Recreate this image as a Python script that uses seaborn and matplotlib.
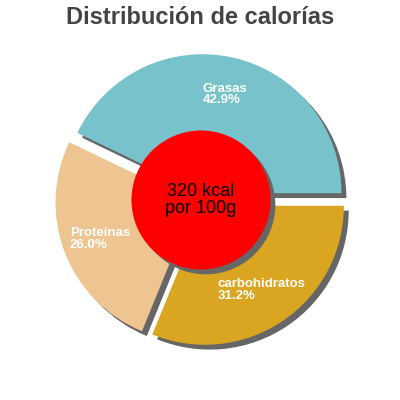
import matplotlib
matplotlib.use("Agg")
import matplotlib.pyplot as plt
import matplotlib.patches as mpatches
import seaborn as sns

# Data
nutrients = ["Grasas", "Proteínas", "carbohidratos"]
shares = [42.9, 26.0, 31.2]
colors = ["#78C3CB", "#EEC591", "#DAA520"]
title = "Distribución de calorías"
center_text = "320 kcal\npor 100g"

sns.set_theme(style="white")
plt.rcParams["font.family"] = ["Liberation Sans", "DejaVu Sans"]

fig = plt.figure(figsize=(4, 4), dpi=100)
ax = fig.add_axes([0, 0, 1, 1])

labels = [f"{n}\n{s:.1f}%" for n, s in zip(nutrients, shares)]
wedges, texts = ax.pie(
    shares,
    labels=labels,
    colors=colors,
    startangle=0,
    counterclock=True,
    explode=[0.05, 0.05, 0.05],
    labeldistance=0.73,
    shadow={"ox": 0.025, "oy": -0.025, "facecolor": "#666666",
            "edgecolor": "none", "alpha": 1, "zorder": 0.5},
    wedgeprops=dict(linewidth=0, zorder=1),
    textprops=dict(color="white", fontsize=9.5, fontweight="bold"),
)
for t in texts:
    t.set_ha("center")
    t.set_va("center")
    t.set_multialignment("left")
    t.set_linespacing(0.95)
    t.set_zorder(5)

# red centre disc with its shadow
hole = mpatches.Circle((0, 0), 0.5, facecolor="red", edgecolor="none", zorder=3)
ax.add_patch(mpatches.Shadow(hole, 0.025, -0.025, facecolor="#666666",
                             edgecolor="none", alpha=1, zorder=2.5))
ax.add_patch(hole)
ax.text(0, 0, center_text, ha="center", va="center", fontsize=13,
        color="black", linespacing=1.0, zorder=6)

r_px = 139
ax.set_xlim(-201 / r_px, 199 / r_px)
ax.set_ylim(-200 / r_px, 200 / r_px)
ax.set_aspect("equal")
ax.axis("off")

fig.text(0.5, 1 - 18 / 400, title, ha="center", va="center",
         fontsize=17, fontweight="bold", color="#444444")

fig.savefig("out.png", dpi=100, facecolor="white")
